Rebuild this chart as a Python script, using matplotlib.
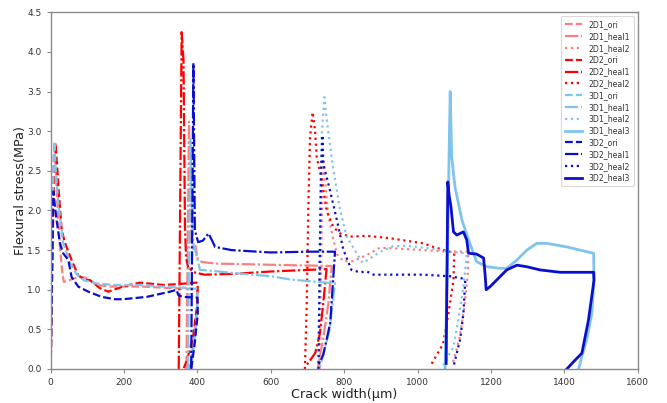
import matplotlib
matplotlib.use("Agg")
import matplotlib.pyplot as plt

# ---- series data: crack width (um) and flexural stress (MPa) ----
d2d1_ori_x = [0, 4, 8, 10, 14, 18, 25, 32, 36, 50, 75, 98, 125, 160, 250, 330, 390, 400, 399, 392, 384, 378]
d2d1_ori_y = [0.0, 1.5, 2.6, 2.85, 2.5, 2.1, 1.55, 1.2, 1.1, 1.12, 1.16, 1.15, 1.06, 1.04, 1.04, 1.02, 1.01, 1.0, 0.8, 0.45, 0.15, 0.0]

d2d1_heal1_x = [370, 377, 380, 383, 388, 395, 400, 412, 450, 550, 650, 766, 757, 745, 734, 728]
d2d1_heal1_y = [0.0, 3.12, 2.2, 1.6, 1.5, 1.55, 1.4, 1.35, 1.33, 1.32, 1.31, 1.3, 0.83, 0.45, 0.16, 0.0]

d2d1_heal2_x = [733, 737, 740, 743, 748, 755, 765, 780, 798, 825, 862, 898, 943, 1016, 1080, 1138, 1137, 1128, 1115, 1095]
d2d1_heal2_y = [0.0, 1.2, 2.2, 2.65, 2.4, 2.0, 1.75, 1.45, 1.36, 1.36, 1.44, 1.53, 1.52, 1.5, 1.48, 1.48, 1.2, 0.8, 0.4, 0.05]

d2d2_ori_x = [0, 5, 10, 13, 17, 21, 30, 39, 57, 75, 94, 107, 134, 157, 197, 243, 307, 343, 398, 401, 399, 388, 372, 362]
d2d2_ori_y = [0.0, 1.5, 2.6, 2.85, 2.6, 2.3, 1.75, 1.59, 1.375, 1.18, 1.13, 1.12, 1.02, 0.975, 1.04, 1.09, 1.06, 1.07, 1.09, 1.08, 0.8, 0.4, 0.12, 0.0]

d2d2_heal1_x = [349, 357, 362, 366, 369, 375, 390, 420, 500, 600, 700, 752, 743, 734, 721, 698]
d2d2_heal1_y = [0.0, 4.25, 3.9, 1.8, 1.4, 1.28, 1.22, 1.19, 1.2, 1.23, 1.25, 1.26, 0.83, 0.45, 0.2, 0.05]

d2d2_heal2_x = [693, 698, 702.5, 707, 714, 720.6, 725, 739, 752.6, 770.6, 789, 816, 862, 925, 1016, 1043, 1080, 1100, 1098, 1084, 1070, 1034]
d2d2_heal2_y = [0.0, 0.83, 2.08, 2.93, 3.24, 3.01, 2.68, 2.38, 1.99, 1.79, 1.71, 1.67, 1.68, 1.65, 1.585, 1.54, 1.49, 1.46, 1.12, 0.7, 0.32, 0.03]

d3d1_ori_x = [0, 4, 8, 10, 14, 21, 34, 52, 70, 90, 125, 171, 243, 307, 380, 400, 399, 392, 383, 378]
d3d1_ori_y = [0.0, 1.6, 2.6, 2.87, 2.5, 2.09, 1.59, 1.35, 1.2, 1.12, 1.08, 1.06, 1.06, 1.04, 1.02, 1.01, 0.7, 0.35, 0.08, 0.0]

d3d1_heal1_x = [374, 381, 384, 388, 398, 407, 437, 500, 600, 652, 700, 775, 760, 739, 732]
d3d1_heal1_y = [0.0, 2.9, 2.2, 1.6, 1.42, 1.25, 1.24, 1.21, 1.17, 1.13, 1.11, 1.08, 0.49, 0.11, 0.0]

d3d1_heal2_x = [730, 733, 738, 746, 752.6, 770.6, 789, 807, 834, 850, 866, 898, 934, 970, 1034, 1089, 1130, 1134, 1125, 1111, 1098, 1070]
d3d1_heal2_y = [0.0, 1.5, 2.9, 3.43, 3.14, 2.51, 2.0, 1.67, 1.46, 1.34, 1.38, 1.48, 1.55, 1.555, 1.52, 1.48, 1.46, 1.42, 1.04, 0.62, 0.28, 0.05]

d3d1_heal3_x = [1075, 1082, 1087, 1089, 1091, 1093, 1102, 1121, 1139, 1161, 1189, 1225, 1243, 1271, 1298, 1325, 1352, 1407, 1461, 1480, 1481, 1475, 1461, 1448, 1439]
d3d1_heal3_y = [0.0, 1.5, 3.0, 3.5, 3.1, 2.68, 2.3, 1.88, 1.63, 1.354, 1.29, 1.27, 1.27, 1.375, 1.5, 1.585, 1.585, 1.54, 1.48, 1.46, 1.12, 0.7, 0.37, 0.16, 0.0]

d3d2_ori_x = [0, 3, 7, 16, 25, 34, 48, 57, 75, 102.5, 139, 175, 197, 262, 325, 343, 348, 360, 400, 401, 392, 383]
d3d2_ori_y = [0.0, 1.0, 2.24, 1.88, 1.59, 1.46, 1.375, 1.16, 1.04, 0.975, 0.91, 0.88, 0.88, 0.91, 0.975, 1.0, 0.93, 0.91, 0.9, 0.7, 0.3, 0.0]

d3d2_heal1_x = [383, 389, 391, 393, 402, 415, 430, 440, 448, 493, 600, 700, 775, 762, 743, 730]
d3d2_heal1_y = [0.0, 3.86, 2.8, 1.75, 1.6, 1.62, 1.71, 1.62, 1.54, 1.5, 1.47, 1.48, 1.48, 0.58, 0.18, 0.05]

d3d2_heal2_x = [730, 733, 737, 741, 743, 761, 780, 798, 820, 843, 862, 880, 925, 1016, 1089, 1125, 1130, 1125, 1116, 1098]
d3d2_heal2_y = [0.0, 1.2, 2.5, 2.95, 2.59, 2.26, 1.88, 1.5, 1.25, 1.22, 1.23, 1.19, 1.19, 1.19, 1.17, 1.14, 1.12, 0.7, 0.37, 0.03]

d3d2_heal3_x = [1078, 1082.5, 1086, 1091, 1098, 1107, 1125, 1134, 1139, 1161, 1180, 1184, 1187, 1198, 1243, 1271, 1298, 1334, 1389, 1480, 1481, 1466, 1448, 1425, 1407]
d3d2_heal3_y = [0.07, 2.36, 2.19, 2.05, 1.73, 1.69, 1.73, 1.63, 1.46, 1.45, 1.4, 1.2, 1.0, 1.04, 1.25, 1.31, 1.29, 1.25, 1.22, 1.22, 1.12, 0.62, 0.2, 0.09, 0.0]

x_ticks = [0, 200, 400, 600, 800, 1000, 1200, 1400, 1600]
y_ticks = [0.0, 0.5, 1.0, 1.5, 2.0, 2.5, 3.0, 3.5, 4.0, 4.5]

C_2D1 = "#fa8080"
C_2D2 = "#ff0000"
C_3D1 = "#80c4ee"
C_3D2 = "#0a0fcd"

LS_ORI = (0, (3.5, 1.4))
LS_HEAL1 = (0, (6, 1.2, 1, 1.2))
LS_HEAL2 = (0, (1, 1.65))
LS_HEAL3 = "-"

series = [
    ("2D1_ori", d2d1_ori_x, d2d1_ori_y, C_2D1, LS_ORI, 1.6),
    ("2D1_heal1", d2d1_heal1_x, d2d1_heal1_y, C_2D1, LS_HEAL1, 1.6),
    ("2D1_heal2", d2d1_heal2_x, d2d1_heal2_y, C_2D1, LS_HEAL2, 1.6),
    ("2D2_ori", d2d2_ori_x, d2d2_ori_y, C_2D2, LS_ORI, 1.6),
    ("2D2_heal1", d2d2_heal1_x, d2d2_heal1_y, C_2D2, LS_HEAL1, 1.6),
    ("2D2_heal2", d2d2_heal2_x, d2d2_heal2_y, C_2D2, LS_HEAL2, 1.6),
    ("3D1_ori", d3d1_ori_x, d3d1_ori_y, C_3D1, LS_ORI, 1.6),
    ("3D1_heal1", d3d1_heal1_x, d3d1_heal1_y, C_3D1, LS_HEAL1, 1.6),
    ("3D1_heal2", d3d1_heal2_x, d3d1_heal2_y, C_3D1, LS_HEAL2, 1.6),
    ("3D1_heal3", d3d1_heal3_x, d3d1_heal3_y, C_3D1, LS_HEAL3, 2.0),
    ("3D2_ori", d3d2_ori_x, d3d2_ori_y, C_3D2, LS_ORI, 1.6),
    ("3D2_heal1", d3d2_heal1_x, d3d2_heal1_y, C_3D2, LS_HEAL1, 1.6),
    ("3D2_heal2", d3d2_heal2_x, d3d2_heal2_y, C_3D2, LS_HEAL2, 1.6),
    ("3D2_heal3", d3d2_heal3_x, d3d2_heal3_y, C_3D2, LS_HEAL3, 2.0),
]

fig = plt.figure(figsize=(6.67, 4.03), dpi=100)
ax = fig.add_axes([0.076, 0.0844, 0.880, 0.885])

for name, xs, ys, col, ls, lw in series:
    ax.plot(xs, ys, color=col, linestyle=ls, linewidth=lw, label=name)

ax.set_xlim(0, 1600)
ax.set_ylim(0, 4.5)
ax.set_xticks(x_ticks)
ax.set_yticks(y_ticks)
ax.set_yticklabels([f"{v:.1f}" for v in y_ticks])

for sp in ax.spines.values():
    sp.set_color("#8c8c8c")
    sp.set_linewidth(1.0)
ax.tick_params(axis="both", colors="#8c8c8c", labelcolor="#333333", labelsize=6.5, length=3, width=0.8)

ax.set_xlabel("Crack width(\u03bcm)", fontsize=9.2, color="#222222", labelpad=1)
ax.set_ylabel("Flexural stress(MPa)", fontsize=9.2, color="#222222", labelpad=0)

leg = ax.legend(loc="upper right", fontsize=5.6, frameon=True, fancybox=True,
                handlelength=2.2, labelspacing=0.36, borderpad=0.5)
leg.get_frame().set_edgecolor("#d0d0d0")
leg.get_frame().set_linewidth(0.8)
for t in leg.get_texts():
    t.set_color("#333333")

fig.savefig("out.png", dpi=100)
